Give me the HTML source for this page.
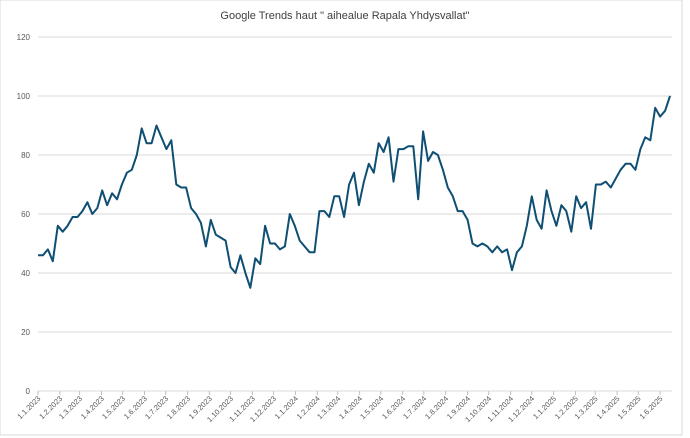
<!DOCTYPE html>
<html><head><meta charset="utf-8"><style>
body{margin:0;background:#fff;font-family:"Liberation Sans",sans-serif}
svg{display:block}
</style></head><body>
<svg width="690" height="438" id="c">
<rect x="0" y="0" width="682" height="435" fill="#fff" stroke="#d9d9d9"/>
<text x="345" y="19" text-anchor="middle" font-size="11" fill="#404040">Google  Trends haut " aihealue Rapala Yhdysvallat"</text>
<g id="grid"></g><g id="xa"></g><path id="line" fill="none" stroke="#0e4f73" stroke-width="2" stroke-linejoin="round"/>
</svg>
<script>
const values=[46,46,48,44,56,54,56,59,59,61,64,60,62,68,63,67,65,70,74,75,80,89,84,84,90,86,82,85,70,69,69,62,60,57,49,58,53,52,51,42,40,46,40,35,45,43,56,50,50,48,49,60,56,51,49,47,47,61,61,59,66,66,59,70,74,63,71,77,74,84,81,86,71,82,82,83,83,65,88,78,81,80,75,69,66,61,61,58,50,49,50,49,47,49,47,48,41,47,49,56,66,58,55,68,61,56,63,61,54,66,62,64,55,70,70,71,69,72,75,77,77,75,82,86,85,96,93,95,100];
const yTicks=[0,20,40,60,80,100,120];
const monthLabels=["1.1.2023","1.2.2023","1.3.2023","1.4.2023","1.5.2023","1.6.2023","1.7.2023","1.8.2023","1.9.2023","1.10.2023","1.11.2023","1.12.2023","1.1.2024","1.2.2024","1.3.2024","1.4.2024","1.5.2024","1.6.2024","1.7.2024","1.8.2024","1.9.2024","1.10.2024","1.11.2024","1.12.2024","1.1.2025","1.2.2025","1.3.2025","1.4.2025","1.5.2025","1.6.2025"];
const NS="http://www.w3.org/2000/svg";
const X0=38,X1=670,Y0=391,Y1=37;
const t0=Date.UTC(2023,0,1),tEnd=t0+7*(values.length-1)*864e5;
function xd(t){return X0+(t-t0)/(tEnd-t0)*(X1-X0);}
function xi(i){return xd(t0+i*7*864e5);}
function y(v){return Y0-(v/120)*(Y0-Y1);}
const g=document.getElementById('grid');
yTicks.forEach(v=>{
 const l=document.createElementNS(NS,'line');
 
 
 l.setAttribute('x1',X0);l.setAttribute('x2',672);l.setAttribute('y1',y(v));l.setAttribute('y2',y(v));
 l.setAttribute('stroke','#d9d9d9');l.setAttribute('stroke-width','1');g.appendChild(l);
 const t=document.createElementNS(NS,'text');
 
 
 t.setAttribute('x',30);t.setAttribute('y',y(v)+3);t.setAttribute('text-anchor','end');t.setAttribute('font-size','8');t.setAttribute('fill','#595959');
 t.textContent=v;g.appendChild(t);
});
const xa=document.getElementById('xa');
monthLabels.forEach(s=>{
 const p=s.split('.');const t=Date.UTC(+p[2],+p[1]-1,+p[0]);const x=xd(t);
 const k=document.createElementNS(NS,'line');
 
 
 k.setAttribute('x1',x);k.setAttribute('x2',x);k.setAttribute('y1',Y0);k.setAttribute('y2',Y0+4);k.setAttribute('stroke','#bfbfbf');xa.appendChild(k);
 const tx=document.createElementNS(NS,'text');
 
 
 tx.setAttribute('transform','translate('+(x+3)+','+(Y0+8)+') rotate(-45)');
 tx.setAttribute('text-anchor','end');tx.setAttribute('font-size','7.5');tx.setAttribute('fill','#595959');
 tx.textContent=s;xa.appendChild(tx);
});
document.getElementById('line').setAttribute('d',values.map((v,i)=>(i?'L':'M')+xi(i).toFixed(1)+','+y(v).toFixed(1)).join(''));
</script>
</body></html>
